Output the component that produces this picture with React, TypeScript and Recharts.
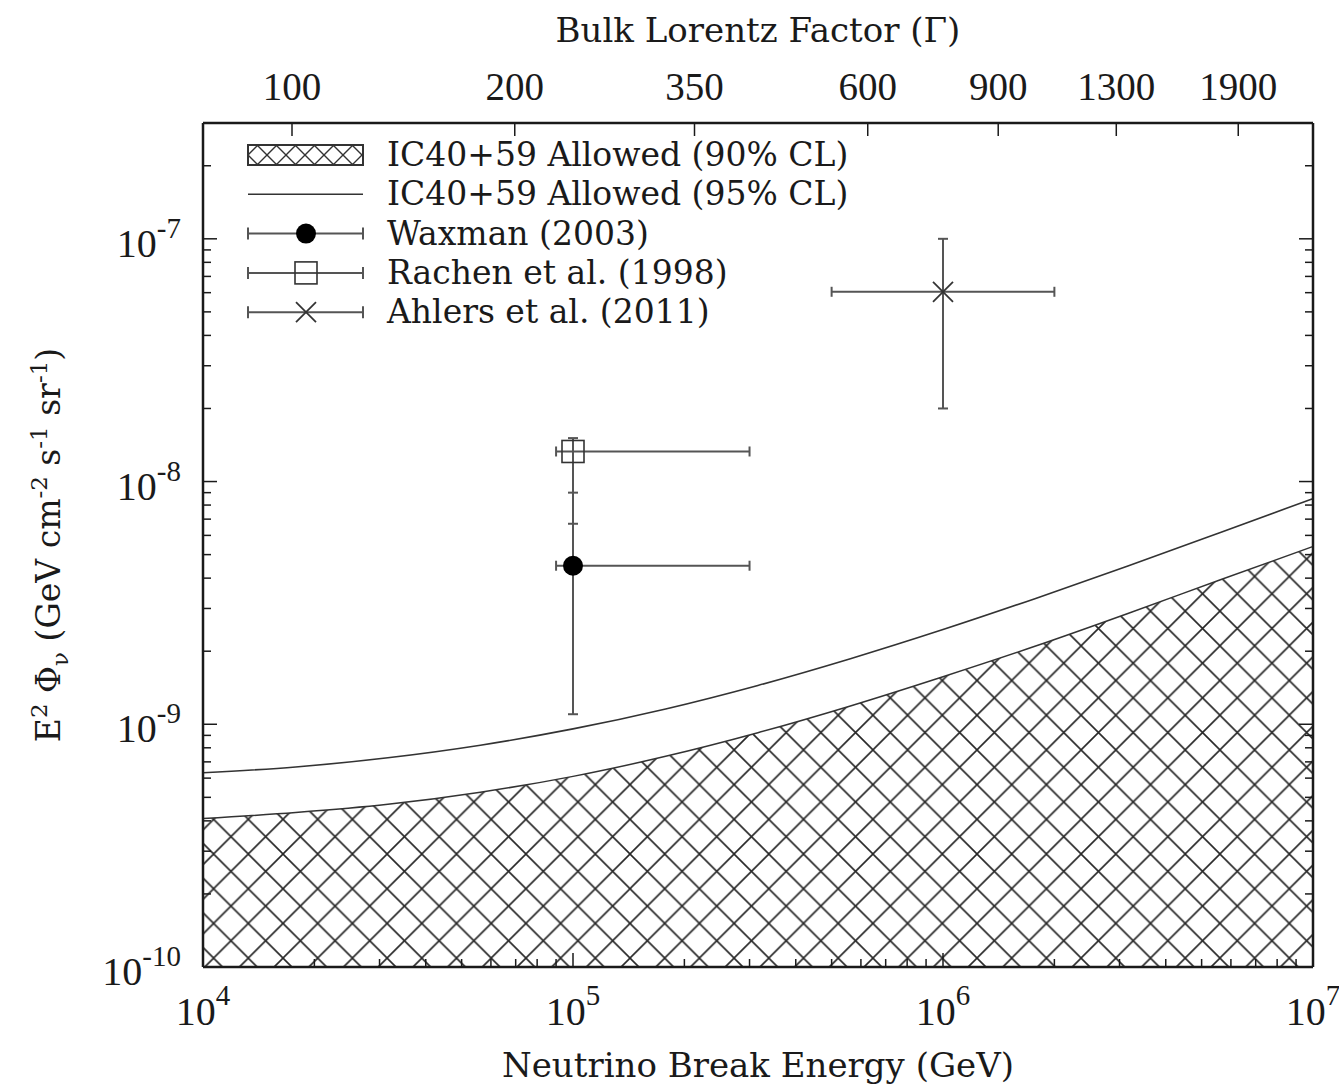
import React from "react";
import {
  ComposedChart,
  Area,
  Line,
  Scatter,
  ErrorBar,
  XAxis,
  YAxis,
  Legend,
  Label,
} from "recharts";

// allowed-flux curves (quarter-decade steps in energy)
const energies = [1e4, 1.78e4, 3.16e4, 5.62e4, 1e5, 1.78e5, 3.16e5, 5.62e5, 1e6, 1.78e6, 3.16e6, 5.62e6, 1e7];
const allowed90 = [
  4.09e-10, 4.33e-10, 4.68e-10, 5.25e-10, 6.1e-10, 7.38e-10, 9.23e-10, 1.19e-9, 1.57e-9, 2.1e-9, 2.86e-9, 3.94e-9, 5.4e-9,
];
const allowed95 = [
  6.31e-10, 6.67e-10, 7.28e-10, 8.2e-10, 9.57e-10, 1.156e-9, 1.445e-9, 1.862e-9, 2.455e-9, 3.3e-9, 4.49e-9, 6.17e-9, 8.51e-9,
];

// model predictions with asymmetric errors [minus, plus]
const waxman = [{ energy: 1e5, flux: 4.5e-9, xErr: [1e4, 2e5], yErr: [3.4e-9, 4.5e-9] }];
const rachen = [{ energy: 1e5, flux: 1.33e-8, xErr: [1e4, 2e5], yErr: [6.6e-9, 1.8e-9] }];
const ahlers = [{ energy: 1e6, flux: 6.05e-8, xErr: [5e5, 1e6], yErr: [4.05e-8, 3.95e-8] }];

const legendLabels = [
  "IC40+59 Allowed (90% CL)",
  "IC40+59 Allowed (95% CL)",
  "Waxman (2003)",
  "Rachen et al. (1998)",
  "Ahlers et al. (2011)",
];

const xMajor = [1e4, 1e5, 1e6, 1e7];
const yMajor = [1e-10, 1e-9, 1e-8, 1e-7];
// top axis: bulk Lorentz factor labels and the break energies they sit at
const gammaLabels = ["100", "200", "350", "600", "900", "1300", "1900"];
const gammaEnergies = [1.74e4, 6.96e4, 2.13e5, 6.26e5, 1.41e6, 2.94e6, 6.28e6];

const withMinors = (majors: number[], max: number) => {
  const out: number[] = [];
  majors.forEach((m) => {
    out.push(m);
    for (let k = 2; k <= 9; k++) if (k * m <= max) out.push(k * m);
  });
  return out;
};
const xTicks = withMinors(xMajor, 1e7);
const yTicks = withMinors(yMajor, 2.99e-7);

const curveData = energies.map((e, i) => ({
  energy: e,
  limit90: allowed90[i],
  limit95: allowed95[i],
}));

const TEXT_FONT = "'DejaVu Serif', serif";
const NUM_FONT = "'Liberation Serif', serif";
const INK = "#1a1a1a";
const BAR = "#555";

const isMajor = (v: number) => Math.abs(Math.log10(v) - Math.round(Math.log10(v))) < 1e-6;
const expo = (v: number) => String(Math.round(Math.log10(v)));

const LeftTick = (props: any) => {
  const { x, y, payload } = props;
  const major = isMajor(payload.value);
  return (
    <g>
      <line x1={x} y1={y} x2={x + (major ? 14 : 8)} y2={y} stroke={INK} strokeWidth={1.5} />
      {major && (
        <text x={x - 22} y={y + 18} textAnchor="end" fontFamily={NUM_FONT} fontSize={40} fill={INK}>
          10
          <tspan dy={-19} fontSize={29}>
            {expo(payload.value)}
          </tspan>
        </text>
      )}
    </g>
  );
};

const RightTick = (props: any) => {
  const { x, y, payload } = props;
  const major = isMajor(payload.value);
  return <line x1={x} y1={y} x2={x - (major ? 14 : 8)} y2={y} stroke={INK} strokeWidth={1.5} />;
};

const BottomTick = (props: any) => {
  const { x, y, payload } = props;
  const major = isMajor(payload.value);
  return (
    <g>
      <line x1={x} y1={y} x2={x} y2={y - (major ? 14 : 8)} stroke={INK} strokeWidth={1.5} />
      {major && (
        <text x={x} y={y + 58} textAnchor="middle" fontFamily={NUM_FONT} fontSize={40} fill={INK}>
          10
          <tspan dy={-20} fontSize={29}>
            {expo(payload.value)}
          </tspan>
        </text>
      )}
    </g>
  );
};

const TopTick = (props: any) => {
  const { x, y, index } = props;
  return (
    <g>
      <line x1={x} y1={y} x2={x} y2={y + 13} stroke={INK} strokeWidth={1.5} />
      <text x={x} y={y - 23} textAnchor="middle" fontFamily={NUM_FONT} fontSize={39} fill={INK}>
        {gammaLabels[index]}
      </text>
    </g>
  );
};

const BottomTitle = (props: any) => {
  const { x, y, width } = props.viewBox;
  return (
    <text x={x + width / 2} y={y + 110} textAnchor="middle" fontFamily={TEXT_FONT} fontSize={34} fill={INK}>
      Neutrino Break Energy (GeV)
    </text>
  );
};

const TopTitle = (props: any) => {
  const { x, width } = props.viewBox;
  return (
    <text x={x + width / 2} y={42} textAnchor="middle" fontFamily={TEXT_FONT} fontSize={34} fill={INK}>
      Bulk Lorentz Factor (Γ)
    </text>
  );
};

const LeftTitle = (props: any) => {
  const { x, y, height } = props.viewBox;
  const cx = x + 60;
  const cy = y + height / 2;
  return (
    <text
      x={cx}
      y={cy}
      transform={`rotate(-90, ${cx}, ${cy})`}
      textAnchor="middle"
      fontFamily={TEXT_FONT}
      fontSize={33}
      fill={INK}
    >
      E<tspan dy={-13} fontSize={23}>2</tspan>
      <tspan dy={13}>{" Φ"}</tspan>
      <tspan dy={8} fontSize={23}>ν</tspan>
      <tspan dy={-8}>{" (GeV cm"}</tspan>
      <tspan dy={-13} fontSize={23}>-2</tspan>
      <tspan dy={13}>{" s"}</tspan>
      <tspan dy={-13} fontSize={23}>-1</tspan>
      <tspan dy={13}>{" sr"}</tspan>
      <tspan dy={-13} fontSize={23}>-1</tspan>
      <tspan dy={13}>)</tspan>
    </text>
  );
};

const Dot = (props: any) => <circle cx={props.cx} cy={props.cy} r={10} fill="#000" />;
const Box = (props: any) => (
  <rect x={props.cx - 11} y={props.cy - 11} width={22} height={22} fill="none" stroke="#333" strokeWidth={1.6} />
);
const Cross = (props: any) => (
  <g stroke="#333" strokeWidth={1.8}>
    <line x1={props.cx - 10} y1={props.cy - 10} x2={props.cx + 10} y2={props.cy + 10} />
    <line x1={props.cx - 10} y1={props.cy + 10} x2={props.cx + 10} y2={props.cy - 10} />
  </g>
);

const LegendBox = () => {
  const mx = 66;
  return (
    <svg width={650} height={200}>
      <defs>
        <pattern id="hatchSmall" patternUnits="userSpaceOnUse" width={19} height={19} x={8} y={6}>
          <path d="M0,0 L19,19 M19,0 L0,19" stroke="#333" strokeWidth={1.4} />
        </pattern>
      </defs>
      {legendLabels.map((label, i) => {
        const cy = 25 + i * 39.3;
        return (
          <g key={label}>
            {i === 0 && (
              <rect x={8} y={cy - 10} width={115} height={20} fill="url(#hatchSmall)" stroke="#333" strokeWidth={2} />
            )}
            {i === 1 && <line x1={8} y1={cy} x2={123} y2={cy} stroke="#333" strokeWidth={1.5} />}
            {i >= 2 && (
              <g stroke={BAR} strokeWidth={2}>
                <line x1={8} y1={cy} x2={123} y2={cy} />
                <line x1={8} y1={cy - 6} x2={8} y2={cy + 6} />
                <line x1={123} y1={cy - 6} x2={123} y2={cy + 6} />
              </g>
            )}
            {i === 2 && <Dot cx={mx} cy={cy} />}
            {i === 3 && <Box cx={mx} cy={cy} />}
            {i === 4 && <Cross cx={mx} cy={cy} />}
            <text x={147} y={cy + 11} fontFamily={TEXT_FONT} fontSize={33} fill={INK}>
              {label}
            </text>
          </g>
        );
      })}
    </svg>
  );
};

const frame = { stroke: INK, strokeWidth: 2.5 };

export default function App() {
  return (
    <div style={{ position: "absolute", left: 0, top: 0, background: "#fff" }}>
      <ComposedChart width={1339} height={1088} data={curveData} margin={{ top: 0, right: 25, bottom: 0, left: 0 }}>
        <defs>
          <pattern id="hatch" patternUnits="userSpaceOnUse" width={34.7} height={34.7} x={5.4} y={21.2}>
            <path
              d="M0,0 L34.7,34.7 M34.7,0 L0,34.7 M-2,2 L2,-2 M32.7,36.7 L36.7,32.7"
              stroke="#262626"
              strokeWidth={1.6}
            />
          </pattern>
        </defs>
        <XAxis
          xAxisId="bottom"
          dataKey="energy"
          type="number"
          scale="log"
          domain={[1e4, 1e7]}
          allowDataOverflow
          ticks={xTicks}
          interval={0}
          height={121}
          tickSize={0}
          tickMargin={0}
          tickLine={false}
          axisLine={frame}
          tick={<BottomTick />}
          label={<Label content={<BottomTitle />} />}
        />
        <XAxis
          xAxisId="top"
          dataKey="energy"
          orientation="top"
          type="number"
          scale="log"
          domain={[1e4, 1e7]}
          allowDataOverflow
          ticks={gammaEnergies}
          interval={0}
          height={123}
          tickSize={0}
          tickMargin={0}
          tickLine={false}
          axisLine={frame}
          tick={<TopTick />}
          label={<Label content={<TopTitle />} />}
        />
        <YAxis
          yAxisId="left"
          type="number"
          scale="log"
          domain={[1e-10, 3e-7]}
          allowDataOverflow
          ticks={yTicks}
          interval={0}
          width={203}
          tickSize={0}
          tickMargin={0}
          tickLine={false}
          axisLine={frame}
          tick={<LeftTick />}
          label={<Label content={<LeftTitle />} />}
        />
        <YAxis
          yAxisId="right"
          orientation="right"
          type="number"
          scale="log"
          domain={[1e-10, 3e-7]}
          allowDataOverflow
          ticks={yTicks}
          interval={0}
          width={1}
          tickSize={0}
          tickMargin={0}
          tickLine={false}
          axisLine={frame}
          tick={<RightTick />}
        />
        <Area
          xAxisId="bottom"
          yAxisId="left"
          dataKey="limit90"
          type="monotone"
          baseValue="dataMin"
          fill="url(#hatch)"
          fillOpacity={1}
          stroke="#333"
          strokeWidth={1.5}
          isAnimationActive={false}
        />
        <Line
          xAxisId="bottom"
          yAxisId="left"
          dataKey="limit95"
          type="monotone"
          stroke="#333"
          strokeWidth={1.6}
          dot={false}
          isAnimationActive={false}
        />
        {/* invisible copy so the top and right axes get drawn */}
        <Line
          xAxisId="top"
          yAxisId="right"
          dataKey="limit95"
          stroke="none"
          dot={false}
          activeDot={false}
          legendType="none"
          isAnimationActive={false}
        />
        <Scatter xAxisId="bottom" yAxisId="left" data={waxman} dataKey="flux" shape={<Dot />} isAnimationActive={false}>
          <ErrorBar dataKey="xErr" direction="x" width={5} stroke={BAR} strokeWidth={2} />
          <ErrorBar dataKey="yErr" direction="y" width={5} stroke={BAR} strokeWidth={2} />
        </Scatter>
        <Scatter xAxisId="bottom" yAxisId="left" data={rachen} dataKey="flux" shape={<Box />} isAnimationActive={false}>
          <ErrorBar dataKey="xErr" direction="x" width={5} stroke={BAR} strokeWidth={2} />
          <ErrorBar dataKey="yErr" direction="y" width={5} stroke={BAR} strokeWidth={2} />
        </Scatter>
        <Scatter xAxisId="bottom" yAxisId="left" data={ahlers} dataKey="flux" shape={<Cross />} isAnimationActive={false}>
          <ErrorBar dataKey="xErr" direction="x" width={5} stroke={BAR} strokeWidth={2} />
          <ErrorBar dataKey="yErr" direction="y" width={5} stroke={BAR} strokeWidth={2} />
        </Scatter>
        <Legend
          layout="horizontal"
          verticalAlign="middle"
          align="center"
          content={<LegendBox />}
          wrapperStyle={{ left: 240, top: 130, width: 650, height: 200 }}
        />
      </ComposedChart>
    </div>
  );
}
